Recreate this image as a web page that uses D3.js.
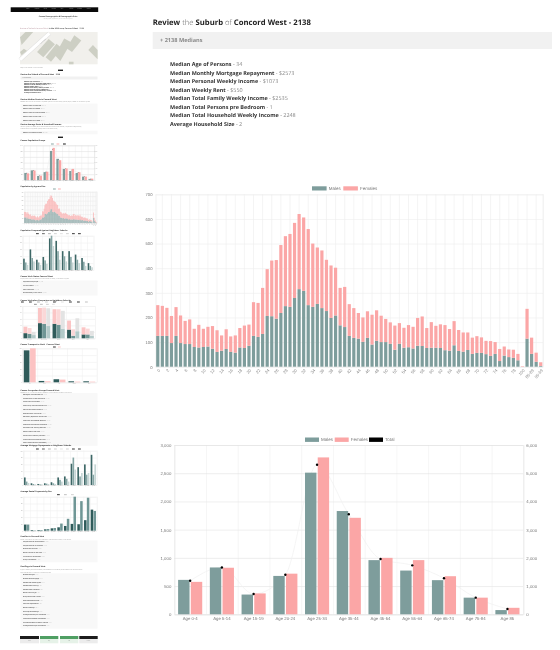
<!DOCTYPE html>
<html><head><meta charset="utf-8">
<script src="https://cdn.jsdelivr.net/npm/d3@7"></script>
<style>
html,body{margin:0;padding:0;background:#fff}
svg{display:block;filter:blur(.35px)}
text{text-rendering:geometricPrecision}
</style></head><body>
<svg id="page" width="560" height="650"></svg>
<script>
// ---------- data ----------
const yearLabels = d3.range(0,80).map(String).concat(["100","80-84","85-89","90-94","95-99"]);
const yearTotals = [250,247,239,206,242,208,186,192,154,170,154,162,165,148,127,152,123,127,157,167,171,262,259,320,396,431,433,494,530,539,584,620,606,559,500,484,472,434,411,402,320,324,254,238,218,200,225,211,229,207,194,180,167,177,158,169,162,198,204,157,181,166,172,169,153,185,149,139,139,118,124,119,105,104,100,72,82,70,69,52,2,235,118,57,18];
const yearMales = [125,125,125,96,125,96,92,92,80,78,80,82,73,60,65,72,60,57,78,76,85,125,121,133,206,205,195,218,246,243,279,315,308,250,243,255,238,226,198,208,168,161,125,117,114,101,117,90,105,100,100,93,69,93,77,79,74,85,84,76,77,77,76,67,65,87,64,61,68,52,56,56,51,44,52,23,45,39,36,26,0,114,52,20,3];
const ageGroups = ["Age 0-4","Age 5-14","Age 15-19","Age 20-24","Age 25-34","Age 35-44","Age 45-54","Age 55-64","Age 65-74","Age 75-84","Age 85"];
const ageMales = [610,830,350,680,2510,1830,960,775,605,295,75];
const ageFemales = [575,825,370,720,2780,1710,1000,960,675,295,115];
const ageTotals = [1190,1660,720,1400,5300,3545,1960,1735,1280,590,190];
const medianLabels = ["Median Age of Persons","Median Monthly Mortgage Repayment","Median Personal Weekly Income","Median Weekly Rent","Median Total Family Weekly Income","Median Total Persons pre Bedroom","Median Total Household Weekly Income","Average Household Size"];
const medianValues = ["34","$2573","$1073","$550","$2535","1","2248","2"];

// thumbnail column values
const compareDark = [33,60,30,38,92,85,55,55,45,35,20];
const compareMid = [22,35,22,28,100,55,40,38,30,24,12];
const compareLight = [15,25,15,18,70,30,25,22,20,12,8];
const workGroups = ["Managers","Professionals","Clerical","Trades","Other"];
const workDark = [16,47,45,27,12];
const workPink = [20,47,45,28,22];
const workTeal = [14,45,42,8,12];
const workRose = [18,50,48,20,18];
const workSage = [10,38,30,22,8];
const workGrey = [10,55,55,40,15];
const travelGroups = ["Car","Train","Bus","Walked","Other"];
const travelDark = [94,4,9,3,3];
const travelPink = [100,3,8,2,2];
const mortDark = [22,5,3,5,8,22,25,62,52,60,88];
const mortMid = [10,3,2,4,5,15,18,80,25,30,30];
const mortLight = [6,2,2,3,3,10,10,45,35,35,60];
const rentDark = [18,2,2,4,7,10,14,20,19,31,62];
const rentLight = [18,1,2,5,8,21,35,100,87,97,58];
const navLabels = ["Home","Suburbs","Census","Rentals","Sales","Schools","Reviews","Contact"];
const rentRows = ["Median Rent House 3 Bed","Median Rent Unit 2 Bed","Median Rent Townhouse 3 Bed","Median Rent House 4 Bed","Median Rent Unit 1 Bed"];
const workRows = ["Population Employed","Full Time Work","Part Time Work","Worked Away From Home"];
const occupationRows = ["Managers in the Workforce","Professionals in the Workforce","Technicians and Trades","Community and Personal Service","Clerical and Administrative","Sales Workers in the Area","Machinery Operators and Drivers","Labourers and Related Workers","Health Care and Social Assistance","Education and Training Workers","Retail Trade in the Area","Construction Industry Workers","Finance and Insurance Services","Public Administration and Safety"];
const familyRows = ["Couple Families with Children","Couple Families no Children","One Parent Families","Other Families in the Area","Lone Person Households","Group Households"];
const dwellingRows = ["Owned Outright","Owned With Mortgage","Rented Real Estate Agent","Rented State Housing","Rented Other Landlord","Other Tenure Type","Occupied Private Houses","Semi Detached Houses","Flats and Apartments","Other Dwellings","Unoccupied Dwellings","Average Vehicles per Household","Internet Connected Households","Households With No Motor Vehicle","Average Persons per Household"];
const mapBuildings = [
 [[0,.16],[.07,.0],[.17,.0],[.02,.40]],
 [[.22,.62],[.37,.22],[.45,.38],[.30,.78]],
 [[.33,.78],[.47,.36],[.54,.50],[.40,.92]],
 [[.45,.72],[.57,.20],[.66,.32],[.52,.90]],
 [[.60,.50],[.70,.10],[.79,.26],[.67,.62]],
 [[.88,.56],[.94,.40],[1,.56],[1,.84]],
 [[.63,.92],[.69,.92],[.69,1],[.63,1]],
 [[.0,.62],[.05,.52],[.09,.58],[.02,.72]]
];
const mapRoad = [[0,.86],[.38,.04]];

// ---------- shared ----------
const svg = d3.select("#page");
const MALE="#7e9d9c", FEMALE="#fba6a6", SANS="'Liberation Sans',Arial,sans-serif", OPEN="'Open Sans','Noto Sans',sans-serif";

function txt(g,x,y,s,o={}){
  return g.append("text").attr("x",x).attr("y",y).text(s)
    .attr("font-family",o.family||OPEN).attr("font-size",o.size||2)
    .attr("font-weight",o.weight||400).attr("fill",o.fill||"#444")
    .attr("text-anchor",o.anchor||"start").attr("dominant-baseline","middle");
}
function styleAxis(a,fs,grid,color){
  a.select(".domain").attr("stroke",grid).attr("stroke-width",.5);
  a.selectAll(".tick line").attr("stroke",grid).attr("stroke-width",.6);
  a.selectAll("text").attr("font-family",SANS).attr("font-size",fs).attr("fill",color);
  return a;
}
function legend(g,items,y,sw,h,fs){
  items.forEach(it=>{
    g.append("rect").attr("x",it.x).attr("y",y-h/2).attr("width",sw).attr("height",h).attr("fill",it.color);
    if(it.label) txt(g,it.x+sw+sw*.14,y,it.label,{family:SANS,size:fs,fill:"#777"});
  });
}
function valueAxis(g,scale,vals,x,len,fs,pad,side,grid,fmt){
  const ax=(side==="left"?d3.axisLeft(scale).tickSize(-len):d3.axisRight(scale).tickSize(0))
    .tickValues(vals).tickPadding(pad).tickFormat(fmt||d3.format(","));
  return styleAxis(g.append("g").attr("transform",`translate(${x},0)`).call(ax),fs,grid,"#777");
}
function edgeGrid(g,l,r,t,b,n,color){
  const e=d3.scaleLinear().domain([0,n]).range([l,r]);
  const a=g.append("g").attr("transform",`translate(0,${b})`)
    .call(d3.axisBottom(e).tickValues(d3.range(0,n+1)).tickSize(-(b-t)).tickFormat(""));
  styleAxis(a,1,color,"#777");
}

// ---------- stacked single-year chart ----------
function yearChart(g,o){
  const {l,r,t,b,fs}=o;
  const x=d3.scaleBand().domain(yearLabels).range([l,r]).paddingInner(.3).paddingOuter(.15);
  const y=d3.scaleLinear().domain([0,700]).range([b,t]);
  valueAxis(g,y,d3.range(0,701,100),l,r-l,fs,o.pad,"left","#ececec");
  const gridA=g.append("g").attr("transform",`translate(0,${b})`)
    .call(d3.axisBottom(x).tickValues(yearLabels.filter((d,i)=>i%2===1)).tickSize(-(b-t)).tickFormat(""));
  styleAxis(gridA,1,"#ececec","#777");
  g.append("line").attr("x1",r).attr("x2",r).attr("y1",t).attr("y2",b).attr("stroke","#ececec").attr("stroke-width",.6);
  const idx=d3.range(yearLabels.length);
  g.append("g").selectAll("rect").data(idx).join("rect")
    .attr("x",i=>x(yearLabels[i])).attr("width",x.bandwidth())
    .attr("y",i=>y(yearMales[i])).attr("height",i=>y(0)-y(yearMales[i])).attr("fill",MALE);
  g.append("g").selectAll("rect").data(idx).join("rect")
    .attr("x",i=>x(yearLabels[i])).attr("width",x.bandwidth())
    .attr("y",i=>y(yearTotals[i])).attr("height",i=>y(yearMales[i])-y(yearTotals[i])).attr("fill",FEMALE);
  const lab=g.append("g").attr("transform",`translate(0,${b})`)
    .call(d3.axisBottom(x).tickValues(yearLabels.filter((d,i)=>i%2===0)).tickSize(0).tickPadding(o.pad));
  lab.select(".domain").attr("stroke","none");
  lab.selectAll("text").attr("font-family",SANS).attr("font-size",fs).attr("fill","#888")
    .attr("text-anchor","end").attr("dy",0).attr("dominant-baseline","middle")
    .attr("transform",`rotate(-50) translate(${-o.pad*.4},${o.pad*.1})`);
}

// ---------- grouped age chart ----------
function ageChart(g,o){
  const {l,r,t,b,fs}=o;
  const x=d3.scaleBand().domain(ageGroups).range([l,r]);
  const x1=d3.scaleBand().domain([0,1]).range([x.step()*.1,x.step()*.9]).paddingInner(.1).paddingOuter(.05);
  const y=d3.scaleLinear().domain([0,3000]).range([b,t]);
  const y2=d3.scaleLinear().domain([0,6000]).range([b,t]);
  edgeGrid(g,l,r,t,b,ageGroups.length,"#f0f0f0");
  valueAxis(g,y,d3.range(0,3001,500),l,r-l,fs,o.pad,"left","#e3e3e3");
  valueAxis(g,y2,d3.range(0,6001,1000),r,0,fs,o.pad,"right","#e3e3e3");
  const line=d3.line().x((d,i)=>x(ageGroups[i])+x.step()/2).y(d=>y2(d)).curve(d3.curveMonotoneX);
  g.append("path").attr("d",line(ageTotals)).attr("fill","none").attr("stroke","#f1f1f1").attr("stroke-width",.7);
  [[ageMales,MALE],[ageFemales,FEMALE]].forEach(([vals,c],k)=>{
    g.append("g").selectAll("rect").data(vals).join("rect")
      .attr("x",(d,i)=>x(ageGroups[i])+x1(k)).attr("width",x1.bandwidth())
      .attr("y",d=>y(d)).attr("height",d=>y(0)-y(d)).attr("fill",c);
  });
  g.append("g").selectAll("circle").data(ageTotals).join("circle")
    .attr("cx",(d,i)=>x(ageGroups[i])+x.step()/2).attr("cy",d=>y2(d)).attr("r",o.dot).attr("fill","#000");
  const lab=g.append("g").attr("transform",`translate(0,${b})`)
    .call(d3.axisBottom(x).tickSize(0).tickPadding(o.pad));
  lab.select(".domain").attr("stroke","none");
  lab.selectAll("text").attr("font-family",SANS).attr("font-size",fs).attr("fill","#777");
}

// ---------- main panel ----------
const main=svg.append("g");
const title=main.append("text").attr("x",152.7).attr("y",25).attr("font-family",OPEN).attr("font-size",7.7).attr("fill","#222");
[["Review",700],[" the ",300],["Suburb",700],[" of ",300],["Concord West - 2138",700]].forEach(([s,w])=>
  title.append("tspan").text(s).attr("font-weight",w).attr("fill",w===700?"#222":"#666"));
main.append("rect").attr("x",152.7).attr("y",32).attr("width",399.3).attr("height",17).attr("fill","#f1f1f1");
txt(main,160,40.3,"+  2138 Medians",{size:5.6,weight:700,fill:"#8a8a8a"});
medianLabels.forEach((s,i)=>{
  const t=main.append("text").attr("x",170).attr("y",66+i*8.57).attr("font-family",OPEN).attr("font-size",5.45);
  t.append("tspan").text(s).attr("font-weight",700).attr("fill","#333");
  t.append("tspan").text(" - "+medianValues[i]).attr("fill","#888");
});
legend(main,[{x:312,color:MALE,label:"Males"},{x:343.3,color:FEMALE,label:"Females"}],188.4,14.6,4.2,4.5);
yearChart(main.append("g"),{l:155.5,r:543,t:194.3,b:366.7,fs:4.2,pad:3});
legend(main,[{x:305,color:MALE,label:"Males"},{x:334.7,color:FEMALE,label:"Females"},{x:369,color:"#000",label:"Total"}],439.7,14,4.4,4.5);
ageChart(main.append("g"),{l:174.3,r:523.3,t:445,b:614.3,fs:4.3,pad:3,dot:1.2});

// ---------- thumbnail column ----------
const th=svg.append("g");
const H=(y,s)=>txt(th,20.5,y,s,{size:1.9,weight:700,fill:"#333"});
const P=(y,s)=>txt(th,20.5,y,s,{size:1.35,fill:"#8a8a8a"});
function rows(y0,step,list,val){
  th.append("rect").attr("x",20.5).attr("y",y0-1.9).attr("width",77).attr("height",step*list.length+.6).attr("fill","#f8f8f8");
  list.forEach((s,i)=>{
    const t=th.append("text").attr("x",23).attr("y",y0+i*step).attr("dominant-baseline","middle").attr("font-family",OPEN).attr("font-size",1.45);
    t.append("tspan").text(s).attr("font-weight",700).attr("fill","#555");
    t.append("tspan").text(" - "+val).attr("fill","#aaa");
  });
}
function btn(y){ th.append("rect").attr("x",58).attr("y",y-.7).attr("width",5).attr("height",1.4).attr("fill","#222"); }

// top bar
th.append("rect").attr("x",10.7).attr("y",7.3).attr("width",87.5).attr("height",4.7).attr("fill","#0a0a0a");
navLabels.forEach((s,i)=>txt(th,26+i*8.6,8.6,s,{size:1.2,fill:"#ddd"}));
txt(th,58,17,"Census Demographics & Demographic Data",{size:1.8,weight:700,fill:"#444",anchor:"middle"});
txt(th,58,19,"Suburb profile, population, income and housing data",{size:1.2,fill:"#999",anchor:"middle"});
const hd=th.append("text").attr("x",20).attr("y",28.2).attr("dominant-baseline","middle").attr("font-family",OPEN).attr("font-size",1.9);
hd.append("tspan").text("Review of Suburb Concord West").attr("fill","#b08a95");
hd.append("tspan").text("  in the NSW area, Concord West - 2138").attr("fill","#555").attr("font-weight",700);

// map
const mx=d3.scaleLinear().domain([0,1]).range([20,97.6]), my=d3.scaleLinear().domain([0,1]).range([32,64.3]);
th.append("rect").attr("x",mx(0)).attr("y",my(0)).attr("width",mx(1)-mx(0)).attr("height",my(1)-my(0)).attr("fill","#f1f0ec");
const mline=d3.line().x(d=>mx(d[0])).y(d=>my(d[1]));
th.append("path").attr("d",mline(mapRoad)).attr("stroke","#dadada").attr("stroke-width",4).attr("fill","none");
th.append("path").attr("d",mline(mapRoad)).attr("stroke","#fff").attr("stroke-width",3.2).attr("fill","none");
th.append("g").selectAll("path").data(mapBuildings).join("path").attr("d",d=>mline(d)+"Z").attr("fill","#cdcfc4");
txt(th,40,44,"Concord West",{size:1.2,fill:"#888"}).attr("transform","rotate(-42 40 44)");
P(67.7,"Map of the suburb of Concord West");
btn(70.3);
H(74,"Review the Suburb of Concord West - 2138");
th.append("rect").attr("x",20.5).attr("y",76.5).attr("width",77).attr("height",3).attr("fill","#f1f1f1");
txt(th,22,78,"+ 2138 Medians",{size:1.2,weight:700,fill:"#888"});
medianLabels.forEach((s,i)=>{
  const t=th.append("text").attr("x",24).attr("y",82+i*1.55).attr("dominant-baseline","middle").attr("font-family",OPEN).attr("font-size",1.4);
  t.append("tspan").text(s).attr("font-weight",700).attr("fill","#333");
  t.append("tspan").text(" - "+medianValues[i]).attr("fill","#888");
});
H(99,"Review Median Rents in Concord West");
P(101.7,"Median rents across the suburb compared against the surrounding Sydney region, based on the census figures.");
rows(105.5,3.9,rentRows,"$550");
H(124.7,"Review Average Rents & Household Income");
P(127,"Census figures for weekly rents and household income for the suburb, compared to neighbouring");
P(129,"suburbs and to the greater Sydney area in the latest survey.");
rows(132.6,3,["Median Household Income"],"$2248");
btn(137.3);

H(140.7,"Census Population Groups");
legend(th,[{x:51,color:MALE},{x:56.5,color:FEMALE},{x:63,color:"#000"}],144,2.8,.9,1);
ageChart(th.append("g"),{l:23.5,r:94.1,t:145.3,b:180,fs:1.05,pad:.7,dot:.28});

H(186.7,"Population by Age and Sex");
legend(th,[{x:53,color:MALE},{x:58,color:FEMALE}],189,2.8,.9,1);
yearChart(th.append("g"),{l:24,r:96.7,t:191.7,b:223,fs:1,pad:.6});

// multi-bar thumbnails
function multi(o){
  const g=th.append("g");
  const x=d3.scaleBand().domain(o.cats).range([o.l,o.r]);
  const x1=d3.scaleBand().domain(d3.range(o.series.length)).range([x.step()*.1,x.step()*.9]).paddingInner(.1);
  const y=d3.scaleLinear().domain([0,o.max||100]).range([o.b,o.t]);
  edgeGrid(g,o.l,o.r,o.t,o.b,o.cats.length,"#f2f2f2");
  valueAxis(g,y,d3.range(0,(o.max||100)+1,(o.max||100)/5),o.l,o.r-o.l,1,.6,"left","#eeeeee",d=>d*(o.unit||10));
  o.series.forEach((s,k)=>{
    g.append("g").selectAll("rect").data(s.v).join("rect")
      .attr("x",(d,i)=>x(o.cats[i])+x1(k)).attr("width",x1.bandwidth())
      .attr("y",d=>y(d)).attr("height",d=>y(0)-y(d)).attr("fill",s.c);
  });
  const lab=g.append("g").attr("transform",`translate(0,${o.b})`).call(d3.axisBottom(x).tickSize(0).tickPadding(.6));
  lab.select(".domain").attr("stroke","none");
  lab.selectAll("text").attr("font-family",SANS).attr("font-size",1).attr("fill","#888");
}
function legendRun(y,x0,step,colors){
  legend(th,colors.map((c,i)=>({x:x0+i*step,color:c})),y,2.8,.9,1);
}
H(230.7,"Population Compared Against Neighbour Suburbs");
legendRun(233.7,36,6,["#222","#555","#aaa","#ccc","#ddd","#ccc","#222","#222"]);
multi({cats:ageGroups,series:[{v:compareDark,c:"#3d6766"},{v:compareMid,c:"#86a6a5"},{v:compareLight,c:"#c6d6d5"}],l:22.5,r:93.5,t:235.7,b:270});
H(276,"Census Work Status Concord West");
P(278.7,"Employment status of residents in the suburb according to the census figures.");
rows(282.3,3.65,workRows,"1,240");

H(300,"Census Workplace Comparison vs Neighbour Suburbs");
legendRun(302,21,8,["#222","#222","#aaa","#ccc","#222","#ddd","#222","#222","#bbb"]);
legendRun(304.3,34,6,["#888","#bbb","#ccc","#ddd"]);
{
  const g=th.append("g");
  const l=22.3,r=95,t=306,b=338.3;
  const x=d3.scaleBand().domain(workGroups).range([l,r]);
  const x1=d3.scaleBand().domain([0,1,2]).range([x.step()*.08,x.step()*.92]).paddingInner(.06);
  const y=d3.scaleLinear().domain([0,100]).range([b,t]);
  edgeGrid(g,l,r,t,b,5,"#f2f2f2");
  valueAxis(g,y,d3.range(0,101,20),l,r-l,1,.6,"left","#eeeeee");
  [[workDark,workPink,"#2f5b5a","#fbc5c5"],[workTeal,workRose,"#6f9695","#fbd8d8"],[workSage,workGrey,"#b3cac9","#e3e3e3"]].forEach(([a,c,ca,cc],k)=>{
    g.append("g").selectAll("rect").data(a).join("rect").attr("x",(d,i)=>x(workGroups[i])+x1(k)).attr("width",x1.bandwidth()).attr("y",d=>y(d)).attr("height",d=>y(0)-y(d)).attr("fill",ca);
    g.append("g").selectAll("rect").data(c).join("rect").attr("x",(d,i)=>x(workGroups[i])+x1(k)).attr("width",x1.bandwidth()).attr("y",(d,i)=>y(d+a[i])).attr("height",d=>y(0)-y(d)).attr("fill",cc);
  });
  const lab=g.append("g").attr("transform",`translate(0,${b})`).call(d3.axisBottom(x).tickSize(0).tickPadding(.6));
  lab.select(".domain").attr("stroke","none");
  lab.selectAll("text").attr("font-family",SANS).attr("font-size",1).attr("fill","#888");
}

H(344.3,"Census Transport to Work - Concord West");
legend(th,[{x:53,color:"#222"},{x:58,color:"#fbc5c5"}],347,2.8,.9,1);
multi({cats:travelGroups,series:[{v:travelDark,c:"#2f5b5a"},{v:travelPink,c:"#fcc3c3"}],l:22.3,r:96.7,t:348.3,b:382.3,max:100});

H(390,"Census Occupation Groups Concord West");
P(392.3,"Breakdown of occupations held by residents in the suburb as listed on the census.");
rows(395,3.72,occupationRows,"4.5%");

H(445.8,"Average Mortgage Repayments vs Neighbour Suburbs");
legendRun(449,36,6,["#222","#555","#aaa","#ccc","#ddd","#ccc","#222","#222"]);
multi({cats:ageGroups,series:[{v:mortDark,c:"#3d6766"},{v:mortMid,c:"#86a6a5"},{v:mortLight,c:"#c6d6d5"}],l:23.3,r:96.7,t:450.7,b:485});

H(491.7,"Average Rental Payments by Size");
legend(th,[{x:57,color:"#222"},{x:64,color:"#bbb"},{x:71,color:"#ccc"}],494.7,2.8,.9,1);
multi({cats:ageGroups,series:[{v:rentDark,c:"#2f5b5a"},{v:rentLight,c:"#6f9695"}],l:23.3,r:96.7,t:496.7,b:530.7});

H(536,"Families in Concord West");
P(539.5,"Family composition figures for households in the suburb according to the census.");
rows(542.3,3.55,familyRows,"32%");
H(566.7,"Dwellings in Concord West");
P(569.7,"Type of dwelling and tenure held by the residents of the suburb, as recorded in the census and the");
P(572.7,"Australian Bureau of Statistics household figures.");
rows(575.2,3.65,dwellingRows,"412");

// footer
[[20,19,"#1c1c1c"],[40,18.3,"#4f9f63"],[60,18.3,"#4f9f63"],[79.3,18.4,"#1c1c1c"]].forEach(([x,w,c],i)=>{
  th.append("rect").attr("x",x).attr("y",636).attr("width",w).attr("height",3).attr("fill",c);
  th.append("rect").attr("x",x).attr("y",639).attr("width",w).attr("height",4.3).attr("fill",i===1||i===2?"#e6f2e8":"#ececec");
  txt(th,x+w/2,641,["Rent","Buy","Sell","Invest"][i],{size:1.2,fill:"#777",anchor:"middle"});
});
</script>
</body></html>
